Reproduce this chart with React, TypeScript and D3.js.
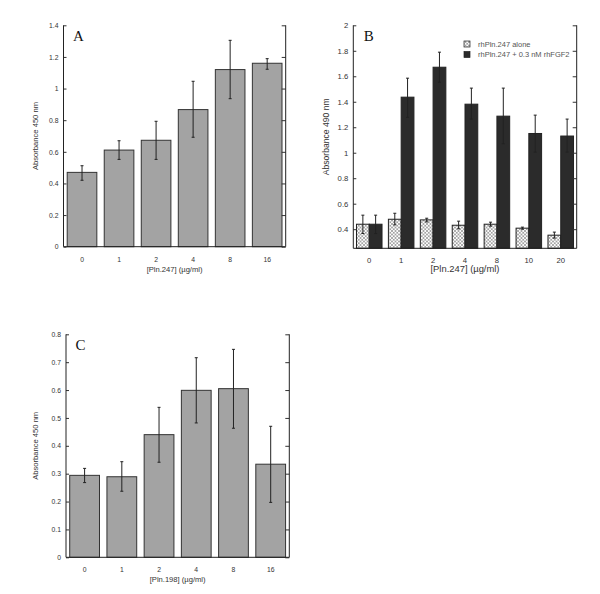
import React, { useEffect, useRef } from "react";
import * as d3 from "d3";

const catsA = ["0", "1", "2", "4", "8", "16"];
const valsA = [0.47, 0.611, 0.673, 0.867, 1.12, 1.16];
const loA = [0.42, 0.552, 0.552, 0.692, 0.936, 1.122];
const hiA = [0.512, 0.67, 0.793, 1.046, 1.305, 1.189];
const ticksA = [0, 0.2, 0.4, 0.6, 0.8, 1, 1.2, 1.4];

const catsB = ["0", "1", "2", "4", "8", "10", "20"];
const seriesB = ["rhPln.247 alone", "rhPln.247 + 0.3 nM rhFGF2"];
const aloneB = [0.439, 0.478, 0.473, 0.431, 0.439, 0.408, 0.353];
const aloneLoB = [0.366, 0.434, 0.457, 0.403, 0.424, 0.4, 0.33];
const aloneHiB = [0.51, 0.525, 0.486, 0.463, 0.455, 0.416, 0.377];
const fgfB = [0.439, 1.436, 1.671, 1.381, 1.287, 1.151, 1.131];
const fgfLoB = [0.366, 1.277, 1.553, 1.264, 1.07, 1.005, 1.005];
const fgfHiB = [0.51, 1.585, 1.789, 1.507, 1.507, 1.295, 1.264];
const ticksB = [0.4, 0.6, 0.8, 1, 1.2, 1.4, 1.6, 1.8, 2];

const catsC = ["0", "1", "2", "4", "8", "16"];
const valsC = [0.294, 0.289, 0.44, 0.599, 0.605, 0.334];
const loC = [0.268, 0.237, 0.341, 0.482, 0.463, 0.197];
const hiC = [0.319, 0.343, 0.538, 0.716, 0.746, 0.47];
const ticksC = [0, 0.1, 0.2, 0.3, 0.4, 0.5, 0.6, 0.7, 0.8];

const SANS = "'Liberation Sans', Arial, sans-serif";
const SERIF = "'Liberation Serif', 'Times New Roman', serif";
const fmt = (v: number) => String(+v.toFixed(2));

function frame(g: any, x0: number, x1: number, y: any, ticks: number[], tickFont: number) {
  const left = g.append("g").attr("transform", `translate(${x0},0)`)
    .call(d3.axisLeft(y).tickValues(ticks).tickSize(-3).tickSizeOuter(0).tickPadding(5).tickFormat(fmt as any));
  left.select(".domain").remove();
  left.selectAll("line").attr("stroke", "#333");
  left.selectAll("text").attr("font-family", SANS).attr("font-size", tickFont).attr("fill", "#333");
  const right = g.append("g").attr("transform", `translate(${x1},0)`)
    .call(d3.axisLeft(y).tickValues(ticks).tickSize(4).tickSizeOuter(0).tickFormat(() => ""));
  right.select(".domain").remove();
  right.selectAll("line").attr("stroke", "#333");
  const [yb, yt] = y.range();
  g.append("line").attr("x1", x0).attr("x2", x0).attr("y1", yb).attr("y2", yt).attr("stroke", "#222");
  g.append("line").attr("x1", x1).attr("x2", x1).attr("y1", yb).attr("y2", yt).attr("stroke", "#222");
  g.append("line").attr("x1", x0).attr("x2", x1).attr("y1", yb).attr("y2", yb).attr("stroke", "#222");
}

function errBars(g: any, xs: number[], lo: number[], hi: number[], y: any) {
  xs.forEach((cx, i) => {
    const e = g.append("g").attr("stroke", "#222").attr("stroke-width", 1);
    e.append("line").attr("x1", cx).attr("x2", cx).attr("y1", y(lo[i])).attr("y2", y(hi[i]));
    e.append("line").attr("x1", cx - 1.5).attr("x2", cx + 1.5).attr("y1", y(lo[i])).attr("y2", y(lo[i]));
    e.append("line").attr("x1", cx - 1.5).attr("x2", cx + 1.5).attr("y1", y(hi[i])).attr("y2", y(hi[i]));
  });
}

function simplePanel(svg: any, o: any) {
  const g = svg.append("g");
  const x = d3.scaleBand().domain(o.cats).range([o.x0, o.x1]).paddingInner(0.2).paddingOuter(0.1);
  const y = d3.scaleLinear().domain(o.domain).range([o.yb, o.yt]);
  g.selectAll("rect.bar").data(o.vals).enter().append("rect")
    .attr("x", (_: any, i: number) => x(o.cats[i]))
    .attr("width", x.bandwidth())
    .attr("y", (d: number) => y(d))
    .attr("height", (d: number) => y(o.domain[0]) - y(d))
    .attr("fill", "#a3a3a3").attr("stroke", "#333").attr("stroke-width", 1);
  errBars(g, o.cats.map((c: string) => (x(c) as number) + x.bandwidth() / 2), o.lo, o.hi, y);
  frame(g, o.x0, o.x1, y, o.ticks, 6.8);
  const xa = g.append("g").attr("transform", `translate(0,${o.yb})`)
    .call(d3.axisBottom(x).tickSize(0).tickPadding(10));
  xa.select(".domain").remove();
  xa.selectAll("text").attr("font-family", SANS).attr("font-size", 6.8).attr("fill", "#333");
  g.append("text").attr("x", (o.x0 + o.x1) / 2).attr("y", o.yb + 25).attr("text-anchor", "middle")
    .attr("font-family", SANS).attr("font-size", 7.6).attr("fill", "#333").text(o.xTitle);
  g.append("text").attr("transform", `translate(${o.yTitleX},${(o.yb + o.yt) / 2}) rotate(-90)`)
    .attr("text-anchor", "middle").attr("font-family", SANS).attr("font-size", 7.6).attr("fill", "#333").text(o.yTitle);
  g.append("text").attr("x", o.x0 + 9.5).attr("y", o.yt + 15.5).attr("font-family", SERIF)
    .attr("font-size", 15).attr("fill", "#111").text(o.letter);
}

export default function App() {
  const ref = useRef<SVGSVGElement>(null);
  useEffect(() => {
    const svg = d3.select(ref.current);
    svg.selectAll("*").remove();
    const defs = svg.append("defs");
    const pat = defs.append("pattern").attr("id", "xhatch").attr("patternUnits", "userSpaceOnUse")
      .attr("width", 3.5).attr("height", 3.5);
    pat.append("rect").attr("width", 3.5).attr("height", 3.5).attr("fill", "#fff");
    pat.append("path").attr("d", "M0,0L3.5,3.5M3.5,0L0,3.5").attr("stroke", "#777").attr("stroke-width", 0.6);

    simplePanel(svg, {
      cats: catsA, vals: valsA, lo: loA, hi: hiA, ticks: ticksA, domain: [0, 1.4],
      x0: 63.5, x1: 285.7, yb: 246.7, yt: 25.3, letter: "A",
      xTitle: "[Pln.247] (\u00b5g/ml)", yTitle: "Absorbance 450 nm", yTitleX: 38,
    });
    simplePanel(svg, {
      cats: catsC, vals: valsC, lo: loC, hi: hiC, ticks: ticksC, domain: [0, 0.8],
      x0: 66, x1: 289.3, yb: 557.3, yt: 334.3, letter: "C",
      xTitle: "[Pln.198] (\u00b5g/ml)", yTitle: "Absorbance 450 nm", yTitleX: 38,
    });

    // Panel B
    const g = svg.append("g");
    const x0 = 353.3, x1 = 576.7, yb = 248.3, yt = 25.3;
    const x = d3.scaleBand().domain(catsB).range([x0, x1]).paddingInner(0.2).paddingOuter(0.1);
    const xs = d3.scaleBand().domain(seriesB).range([0, x.bandwidth()]);
    const y = d3.scaleLinear().domain([0.25, 2]).range([yb, yt]);
    const groups = [
      { vals: aloneB, lo: aloneLoB, hi: aloneHiB, fill: "url(#xhatch)" },
      { vals: fgfB, lo: fgfLoB, hi: fgfHiB, fill: "#2b2b2b" },
    ];
    groups.forEach((s, si) => {
      g.selectAll(null).data(s.vals).enter().append("rect")
        .attr("x", (_: any, i: number) => (x(catsB[i]) as number) + (xs(seriesB[si]) as number))
        .attr("width", xs.bandwidth())
        .attr("y", (d: number) => y(d))
        .attr("height", (d: number) => yb - y(d))
        .attr("fill", s.fill).attr("stroke", "#222").attr("stroke-width", 1);
      errBars(g, catsB.map((c) => (x(c) as number) + (xs(seriesB[si]) as number) + xs.bandwidth() / 2), s.lo, s.hi, y);
    });
    frame(g, x0, x1, y, ticksB, 7.7);
    const xa = g.append("g").attr("transform", `translate(0,${yb})`)
      .call(d3.axisBottom(x).tickSize(0).tickPadding(9));
    xa.select(".domain").remove();
    xa.selectAll("text").attr("font-family", SANS).attr("font-size", 7.7).attr("fill", "#333");
    g.append("text").attr("x", (x0 + x1) / 2).attr("y", yb + 24).attr("text-anchor", "middle")
      .attr("font-family", SANS).attr("font-size", 9.4).attr("fill", "#333").text("[Pln.247] (\u00b5g/ml)");
    g.append("text").attr("transform", `translate(329,${(yb + yt) / 2}) rotate(-90)`)
      .attr("text-anchor", "middle").attr("font-family", SANS).attr("font-size", 8.6).attr("fill", "#333")
      .text("Absorbance 490 nm");
    g.append("text").attr("x", x0 + 10.5).attr("y", yt + 15.5).attr("font-family", SERIF)
      .attr("font-size", 15).attr("fill", "#111").text("B");
    seriesB.forEach((name, i) => {
      const ly = 44 + i * 10.5;
      g.append("rect").attr("x", 464).attr("y", ly - 3).attr("width", 6).attr("height", 6)
        .attr("fill", groups[i].fill).attr("stroke", "#222").attr("stroke-width", 0.7);
      g.append("text").attr("x", 478).attr("y", ly + 2.6).attr("font-family", SANS).attr("font-size", 7.5)
        .attr("fill", "#555").text(name);
    });
  }, []);
  return (
    <svg ref={ref} width={600} height={594} style={{ position: "absolute", left: 0, top: 0, background: "#fff" }} />
  );
}
